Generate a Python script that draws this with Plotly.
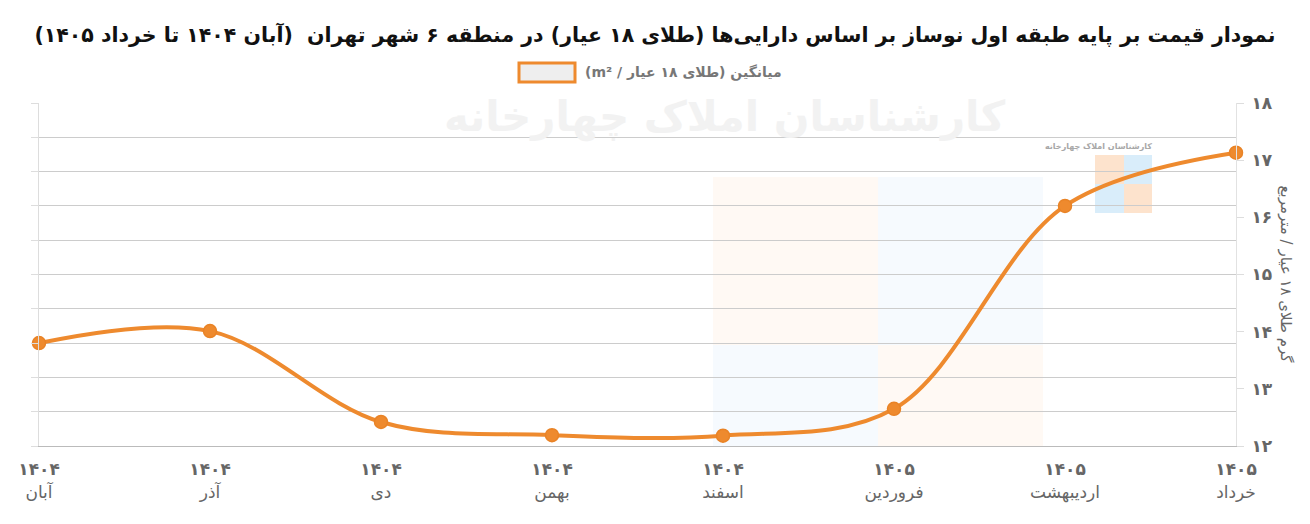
import plotly.graph_objects as go

RLE, PDF = "\u202B", "\u202C"

years = ["۱۴۰۴", "۱۴۰۴", "۱۴۰۴", "۱۴۰۴", "۱۴۰۴", "۱۴۰۵", "۱۴۰۵", "۱۴۰۵"]
months = ["آبان", "آذر", "دی", "بهمن", "اسفند", "فروردین", "اردیبهشت", "خرداد"]
values = [13.80, 14.01, 12.42, 12.19, 12.18, 12.65, 16.20, 17.13]
y_ticks = [12, 13, 14, 15, 16, 17, 18]
y_tick_labels = ["۱۲", "۱۳", "۱۴", "۱۵", "۱۶", "۱۷", "۱۸"]

title = "نمودار قیمت بر پایه طبقه اول نوساز بر اساس دارایی‌ها (طلای ۱۸ عیار) در منطقه ۶ شهر تهران  (آبان ۱۴۰۴ تا خرداد ۱۴۰۵)"
legend_label = "میانگین (طلای ۱۸ عیار / m²)"
y_title = "گرم طلای ۱۸ عیار / مترمربع"

ORANGE = "#EE8A2E"
FONT = "DejaVu Sans"

x_idx = list(range(len(months)))
ticktext = [f"<b>{y}</b><br>{m}" for y, m in zip(years, months)]

fig = go.Figure()

# grid helper axis (0.6 spacing lines)
fig.add_trace(go.Scatter(x=[0], y=[12], yaxis="y2", mode="markers",
                         marker=dict(opacity=0), showlegend=False, hoverinfo="skip"))

fig.add_trace(go.Scatter(
    x=x_idx, y=values, mode="lines+markers",
    line=dict(color=ORANGE, width=4, shape="spline", smoothing=1),
    marker=dict(size=13, color=ORANGE, line=dict(color="#E98326", width=1.5)),
    cliponaxis=False, showlegend=False, name=legend_label,
))

def px_x(px):
    return (px - 39) / (1236 - 39)
def px_y(py):
    return 1 - (py - 103) / (446 - 103)

shapes = []
blocks = [(713, 878, 177, 345, "#FFF9F4"), (878, 1043, 177, 345, "#F6FAFE"),
          (713, 878, 345, 446, "#F6FAFE"), (878, 1043, 345, 446, "#FFF9F4"),
          (1095, 1124, 155, 184, "#FDE3CD"), (1124, 1152, 155, 184, "#D9EDFA"),
          (1095, 1124, 184, 213, "#D9EDFA"), (1124, 1152, 184, 213, "#FDE3CD")]
for x0, x1, y0, y1, c in blocks:
    shapes.append(dict(type="rect", xref="paper", yref="paper", layer="below",
                       x0=px_x(x0), x1=px_x(x1), y0=px_y(y1), y1=px_y(y0),
                       fillcolor=c, line=dict(width=0)))

# legend box (drawn)
shapes.append(dict(type="rect", xref="paper", yref="paper",
                   x0=px_x(519), x1=px_x(575), y0=px_y(82), y1=px_y(63),
                   fillcolor="#EEEEEE", line=dict(color=ORANGE, width=3)))

annotations = [
    dict(text="<b>" + RLE + "کارشناسان املاک چهارخانه" + PDF + "</b>", xref="paper", yref="paper",
         x=px_x(725), y=px_y(117), showarrow=False,
         font=dict(family=FONT, size=42, color="#F2F2F2"), xanchor="center", yanchor="middle"),
    dict(text="<b>" + RLE + "کارشناسان املاک چهارخانه" + PDF + "</b>", xref="paper", yref="paper",
         x=px_x(1098), y=px_y(146), showarrow=False,
         font=dict(family=FONT, size=8, color="#A8A8A8"), xanchor="center", yanchor="middle"),
    dict(text="<b>" + RLE + legend_label + PDF + "</b>", xref="paper", yref="paper",
         x=px_x(583), y=px_y(72), showarrow=False, xanchor="left", yanchor="middle",
         font=dict(family=FONT, size=14, color="#777777")),
    dict(text=RLE + y_title + PDF, xref="paper", yref="paper",
         x=px_x(1286), y=0.5, showarrow=False, textangle=90,
         xanchor="center", yanchor="middle",
         font=dict(family=FONT, size=15, color="#666666")),
]

fig.update_layout(
    width=1310, height=524,
    margin=dict(l=39, r=74, t=103, b=78),
    paper_bgcolor="white", plot_bgcolor="rgba(0,0,0,0)",
    title=dict(text="<b>" + RLE + title + PDF + "</b>", x=0.5, xanchor="center",
               y=1 - 35 / 524, yanchor="middle",
               font=dict(family=FONT, size=20.5, color="#111111")),
    showlegend=False,
    xaxis=dict(range=[0, 7], tickvals=x_idx, ticktext=ticktext, showgrid=False,
               zeroline=False, showline=True, linecolor="#BBBBBB", linewidth=1,
               ticks="", ticklabelstandoff=8,
               tickfont=dict(family=FONT, size=17, color="#666666")),
    yaxis=dict(range=[12, 18], side="right", tickvals=y_ticks,
               ticktext=[f"<b>{t}</b>" for t in y_tick_labels],
               showgrid=False, zeroline=False, showline=True, linecolor="#E2E2E2",
               ticks="outside", ticklen=7, tickcolor="#DDDDDD", ticklabelstandoff=4,
               tickfont=dict(family=FONT, size=17, color="#666666")),
    yaxis2=dict(range=[12, 18], overlaying="y", side="left", dtick=0.6, tick0=12,
                showgrid=True, gridcolor="#CCCCCC", gridwidth=1, zeroline=False,
                showticklabels=False, ticks="outside", ticklen=7, tickcolor="#DDDDDD",
                showline=True, linecolor="#DDDDDD"),
    shapes=shapes, annotations=annotations,
)

fig.write_html("out.html")
